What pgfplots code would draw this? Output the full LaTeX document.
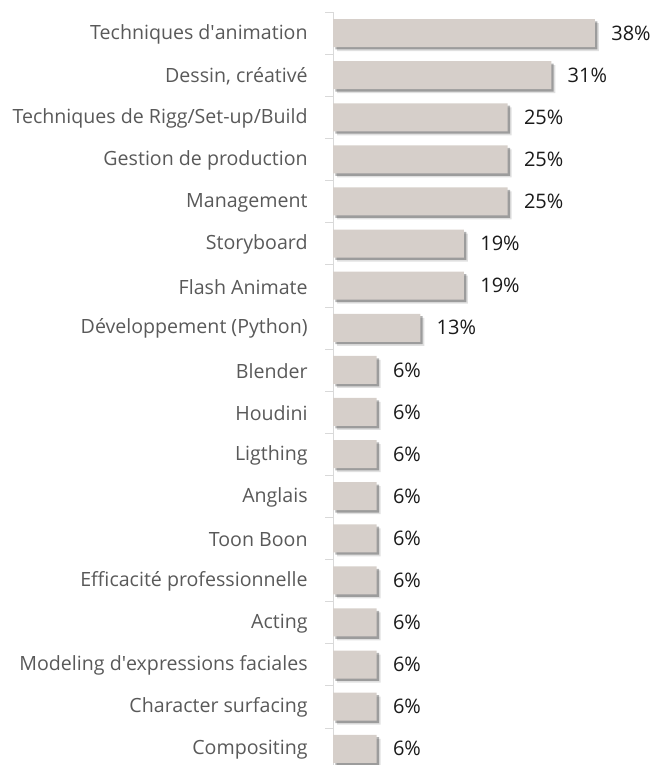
\documentclass[border=0pt]{standalone}
\usepackage{pgfplots}
\pgfplotsset{compat=1.18}
\usepackage{fontspec}
\setmainfont{Open Sans}
\usetikzlibrary{shadows}
\definecolor{barfill}{HTML}{D6CFCA}
\definecolor{labelgrey}{HTML}{595959}
\definecolor{valgrey}{HTML}{1A1A1A}
\definecolor{axisgrey}{HTML}{D9D9D9}

\begin{document}
\begin{tikzpicture}
\begin{axis}[
    at={(166.5pt,-6pt)}, anchor=north west,
    scale only axis, width=139.7pt, height=378.9pt,
    xbar, bar width=14pt,
    xmin=0, xmax=40, ymin=-0.5, ymax=17.5, y dir=reverse,
    axis x line=none, axis y line*=left,
    y axis line style={draw=axisgrey, -},
    ytick={0,...,17},
    yticklabels={Techniques d\textquotesingle animation, {Dessin, créativé},
        Techniques de Rigg/Set-up/Build, Gestion de production, Management,
        Storyboard, Flash Animate, Développement (Python), Blender, Houdini,
        Ligthing, Anglais, Toon Boon, Efficacité professionnelle, Acting,
        Modeling d\textquotesingle expressions faciales, Character surfacing,
        Compositing},
    major tick length=0pt,
    minor ytick={-0.5,0.5,...,17.5},
    minor tick length=4pt, tick align=outside,
    minor tick style={draw=axisgrey},
    yticklabel style={font=\fontsize{9.8}{11}\selectfont, text=labelgrey,
        inner sep=0pt, xshift=-12.5pt, yshift=-0.5pt},
    nodes near coords, point meta=explicit symbolic,
    every node near coord/.append style={font=\fontsize{10}{12}\selectfont,
        text=valgrey, anchor=west, inner sep=0pt, xshift=8pt},
]
\addplot[fill=barfill, draw=none,
    drop shadow={shadow xshift=2pt, shadow yshift=-2pt,
        fill=black, opacity=0.12},
    drop shadow={shadow xshift=1.2pt, shadow yshift=-1.2pt,
        fill=black, opacity=0.3}]
    coordinates {
    (37.5,0) [38\%]
    (31.25,1) [31\%]
    (25,2) [25\%]
    (25,3) [25\%]
    (25,4) [25\%]
    (18.75,5) [19\%]
    (18.75,6) [19\%]
    (12.5,7) [13\%]
    (6.25,8) [6\%]
    (6.25,9) [6\%]
    (6.25,10) [6\%]
    (6.25,11) [6\%]
    (6.25,12) [6\%]
    (6.25,13) [6\%]
    (6.25,14) [6\%]
    (6.25,15) [6\%]
    (6.25,16) [6\%]
    (6.25,17) [6\%]
};
\end{axis}
\pgfresetboundingbox
\useasboundingbox (0,0) rectangle (325.5pt,-382.5pt);
\end{tikzpicture}
\end{document}
